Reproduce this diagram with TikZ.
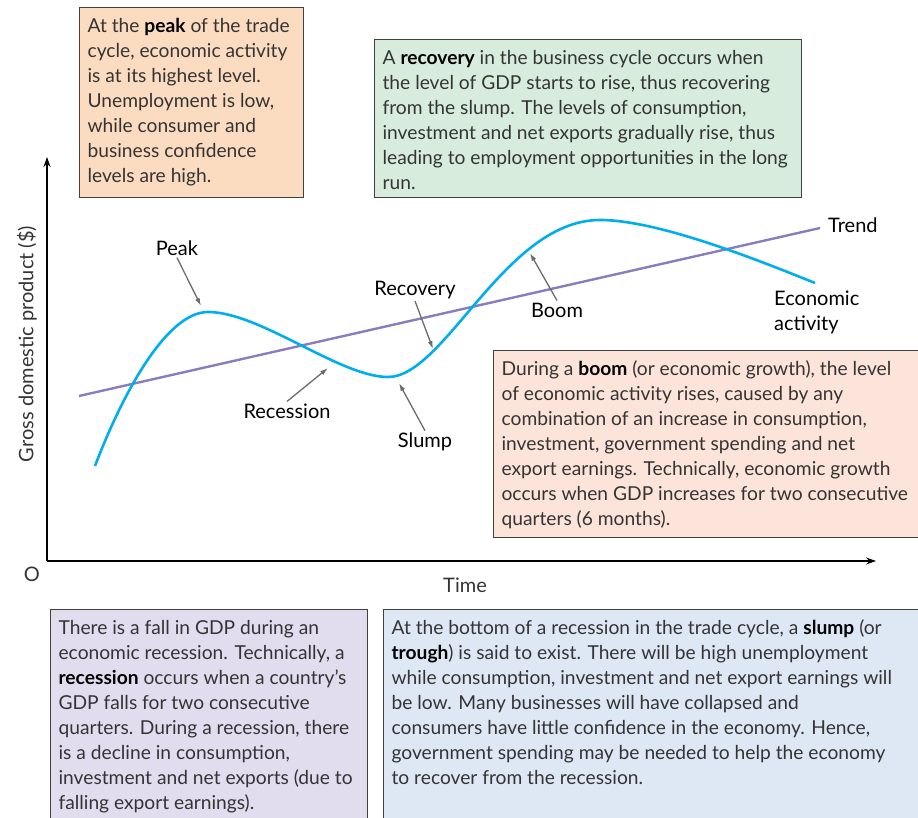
\documentclass[tikz,border=0pt]{standalone}
\usepackage{fontspec}
\setmainfont{Lato}
\usetikzlibrary{arrows.meta,positioning}
\definecolor{cycleBlue}{RGB}{0,174,239}
\definecolor{trendPurple}{RGB}{137,125,190}
\definecolor{pointerGrey}{RGB}{108,108,110}
\definecolor{boxLine}{RGB}{64,64,64}
\definecolor{textGrey}{RGB}{52,52,52}
\definecolor{peakFill}{RGB}{252,220,192}
\definecolor{recoFill}{RGB}{216,236,222}
\definecolor{boomFill}{RGB}{252,228,218}
\definecolor{receFill}{RGB}{225,221,238}
\definecolor{slumpFill}{RGB}{222,232,245}
\newcommand{\kw}[1]{\textcolor{black}{\textbf{#1}}}
\newcommand{\boxtext}[3]{\parbox[t][#1][t]{#2}{\raggedright\strut #3}}

\begin{document}
\begin{tikzpicture}[x=1pt,y=-1pt,
    infobox/.style={draw=boxLine,line width=1.2pt,anchor=north west,
      inner xsep=8pt,inner ysep=7pt,text=textGrey,
      font=\fontsize{19.2}{25}\selectfont},
    curvelbl/.style={font=\fontsize{20}{25}\selectfont,inner sep=2pt},
    axislbl/.style={font=\fontsize{20}{25}\selectfont,text=textGrey,inner sep=1pt},
    pointer/.style={draw=pointerGrey,line width=1.3pt,-{Latex[length=8pt,width=5pt]}},
    axis/.style={line width=1.3pt,-{Stealth[length=10pt,width=7pt]}}
  ]
  \clip (0,0) rectangle (918,818);

  % axes
  \coordinate (origin) at (47,561);
  \coordinate (ytop) at (47,157);
  \coordinate (xend) at (876,561);
  \draw[axis] (origin) -- (ytop);
  \draw[axis] (origin) -- (xend);
  \node[axislbl] (originlbl) at (32,574) {O};
  \node[axislbl] (timelbl) at (465,585) {Time};
  \node[axislbl,rotate=90] (gdplbl) at (27,344) {Gross domestic product (\$)};

  % trend and economic activity
  \coordinate (trendstart) at (79,396);
  \coordinate (trendend) at (820,228);
  \draw[trendPurple,line width=2.4pt] (trendstart) -- (trendend);
  \draw[cycleBlue,line width=2.6pt]
    (95,466) .. controls (120,400) and (165,312) .. (208,312)
    .. controls (260,312) and (340,377) .. (388,377)
    .. controls (445,377) and (505,220) .. (600,220)
    .. controls (660,220) and (765,263) .. (815,283);
  \node[curvelbl,anchor=west] (trendlbl) at (826,225) {Trend};
  \node[curvelbl,anchor=west,align=left] (activitylbl) at (772,312)
    {Economic\\activity};

  % phase labels and pointers
  \node[curvelbl] (peaklbl) at (177,248) {Peak};
  \node[curvelbl] (reclbl) at (287,411) {Recession};
  \node[curvelbl] (slumplbl) at (425,442) {Slump};
  \node[curvelbl] (recovlbl) at (415,290) {Recovery};
  \node[curvelbl] (boomlbl) at (557,310) {Boom};
  \coordinate (peaktip) at (201,306);
  \coordinate (rectip) at (328,368);
  \coordinate (slumptip) at (399,383);
  \coordinate (recovtip) at (433,349);
  \coordinate (boomtip) at (530,253);
  \draw[pointer] (peaklbl.south) -- (peaktip);
  \draw[pointer] (reclbl.north) -- (rectip);
  \draw[pointer] (slumplbl.north) -- (slumptip);
  \draw[pointer] (recovlbl.south) -- (recovtip);
  \draw[pointer] (boomlbl.north) -- (boomtip);

  % explanation boxes
  \node[infobox,fill=peakFill] (peakbox) at (79,7)
    {\boxtext{176pt}{208pt}{At the \kw{peak} of the trade\\
      cycle, economic activity\\ is at its highest level.\\
      Unemployment is low,\\ while consumer and\\
      business confidence\\ levels are high.}};
  \node[infobox,fill=recoFill] (recobox) at (374,39)
    {\boxtext{144pt}{411pt}{A \kw{recovery} in the business cycle occurs when\\
      the level of GDP starts to rise, thus recovering\\
      from the slump. The levels of consumption,\\
      investment and net exports gradually rise, thus\\
      leading to employment opportunities in the long\\ run.}};
  \node[infobox,fill=boomFill] (boombox) at (493,350)
    {\boxtext{173pt}{440pt}{During a \kw{boom} (or economic growth), the level\\
      of economic activity rises, caused by any\\
      combination of an increase in consumption,\\
      investment, government spending and net\\
      export earnings. Technically, economic growth\\
      occurs when GDP increases for two consecutive\\
      quarters (6 months).}};
  \node[infobox,fill=receFill] (recebox) at (50,609)
    {\boxtext{230pt}{301pt}{There is a fall in GDP during an\\
      economic recession. Technically, a\\
      \kw{recession} occurs when a country’s\\
      GDP falls for two consecutive\\
      quarters. During a recession, there\\
      is a decline in consumption,\\
      investment and net exports (due to\\
      falling export earnings).}};
  \node[infobox,fill=slumpFill] (slumpbox) at (383,609)
    {\boxtext{230pt}{545pt}{At the bottom of a recession in the trade cycle, a \kw{slump} (or\\
      \kw{trough}) is said to exist. There will be high unemployment\\
      while consumption, investment and net export earnings will\\
      be low. Many businesses will have collapsed and\\
      consumers have little confidence in the economy. Hence,\\
      government spending may be needed to help the economy\\
      to recover from the recession.}};
\end{tikzpicture}
\end{document}
